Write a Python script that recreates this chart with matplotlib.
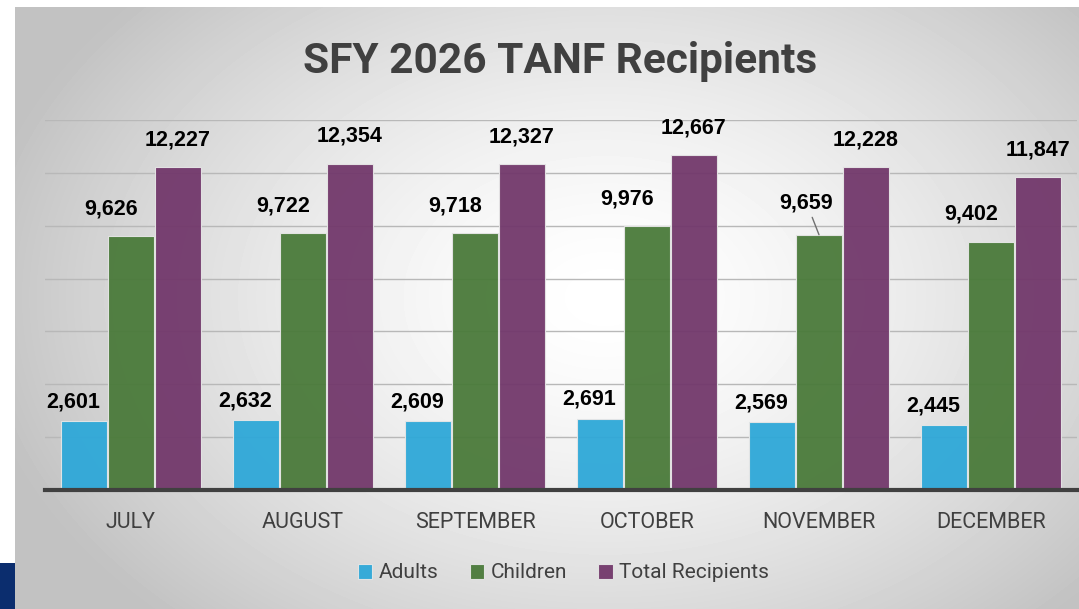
"""SFY 2026 TANF recipients by month, grouped bars"""

import matplotlib
matplotlib.use('Agg')
import matplotlib.pyplot as plt
import numpy as np
from matplotlib.patches import Rectangle

months = ["JULY", "AUGUST", "SEPTEMBER", "OCTOBER", "NOVEMBER", "DECEMBER"]
adults = [2601, 2632, 2609, 2691, 2569, 2445]
children = [9626, 9722, 9718, 9976, 9659, 9402]
totals = [12227, 12354, 12327, 12667, 12228, 11847]
series_names = ["Adults", "Children", "Total Recipients"]
colors = ["#2ea8d8", "#4a7a3a", "#72386b"]

fig = plt.figure(figsize=(10.79, 6.09), dpi=100, facecolor='w')

# gray radial-ish backdrop of the slide panel
bg = fig.add_axes([15/1079, 0, 1 - 15/1079, (609 - 7)/609], zorder=0)
W, H = 1064, 602
xx, yy = np.meshgrid(np.arange(W), np.arange(H))
r = np.sqrt(((xx - 590)/600.0)**2 + ((yy - 290)/420.0)**2)
shade = np.clip(1 - 0.22*r**1.5, 0.76, 1)
bg.imshow(shade, cmap='gray', vmin=0, vmax=1, aspect='auto', interpolation='bilinear')
bg.axis('off')
fig.patches.append(Rectangle((0, 0), 15/1079, 46/609, transform=fig.transFigure,
                             facecolor='#0b2d6e', edgecolor='none', zorder=1))

ax = fig.add_axes([45/1079, 119/609, 1032/1079, 370/609], zorder=2)
ax.patch.set_alpha(0)

x = np.arange(len(months))
width = 0.268
step = 0.273
data = [adults, children, totals]
bars = []
for i, (vals, name, c) in enumerate(zip(data, series_names, colors)):
    b = ax.bar(x + (i - 1)*step, vals, width, color=c, alpha=0.95,
               edgecolor='#e6e6e6', linewidth=0.8, label=name, zorder=2)
    bars.append(b)

# data labels (offsets in points, like the moved labels in the original)
offsets = [(-8, 14), (-14, 19.5), (0, 19.5)]
for i, b in enumerate(bars):
    for j, rect in enumerate(b):
        cx = rect.get_x() + rect.get_width()/2
        h = rect.get_height()
        dx, dy = offsets[i]
        if i == 1 and j == 4:
            ax.annotate(f"{h:,.0f}", (cx, h), xytext=(-9, 23), textcoords='offset points',
                        ha='center', va='center', fontsize=15.5, fontweight='bold',
                        family='Liberation Sans', color='black',
                        arrowprops=dict(arrowstyle='-', color='#707070', lw=1,
                                        shrinkA=1, shrinkB=0))
            continue
        ax.annotate(f"{h:,.0f}", (cx, h), xytext=(dx, dy), textcoords='offset points',
                    ha='center', va='center', fontsize=15.5, fontweight='bold',
                    family='Liberation Sans', color='black')

ax.set_xlim(-0.5, 5.5)
ax.set_ylim(0, 14000)
ax.set_yticks(np.arange(0, 14001, 2000))
ax.yaxis.grid(True, color='#b8b8b8', linewidth=1, zorder=1)
ax.set_axisbelow(True)
ax.tick_params(axis='y', left=False, labelleft=False)
ax.set_xticks(x)
ax.set_xticklabels(months, family='Roboto', fontsize=15.5, color='#404040')
ax.tick_params(axis='x', bottom=False, pad=12)
for s in ['top', 'right', 'left']:
    ax.spines[s].set_visible(False)
ax.spines['bottom'].set_color('#404040')
ax.spines['bottom'].set_linewidth(3)

fig.text(0.519, 1 - 61/609, "SFY 2026 TANF Recipients", ha='center', va='center',
         fontsize=30.5, fontweight='bold', family='Roboto', color='#404040')

leg = fig.legend(loc='center', bbox_to_anchor=(0.522, 1 - 573/609), ncol=3, frameon=False,
                 prop={'family': 'Roboto', 'size': 15}, handlelength=0.7, handleheight=0.7,
                 handletextpad=0.3, columnspacing=1.5, labelcolor='#404040')

fig.savefig('out.png', dpi=100, facecolor=fig.get_facecolor())
